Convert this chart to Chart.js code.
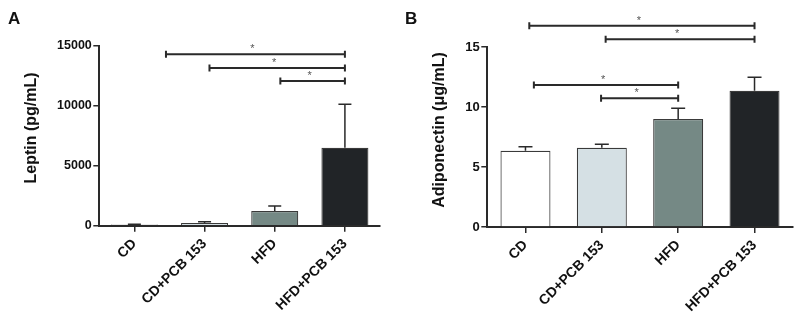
<!DOCTYPE html>
<html>
<head>
<meta charset="utf-8">
<script src="https://cdn.jsdelivr.net/npm/chart.js@4.4.0/dist/chart.umd.min.js"></script>
<style>
  html, body { margin: 0; padding: 0; background: #ffffff; }
  #wrap { position: relative; width: 800px; height: 324px; overflow: hidden; }
  .panel { position: absolute; top: 0; width: 400px; height: 324px; }
  #pa { left: 0; }
  #pb { left: 400px; }
</style>
</head>
<body>
<div id="wrap">
  <div class="panel" id="pa"><canvas id="ca"></canvas></div>
  <div class="panel" id="pb"><canvas id="cb"></canvas></div>
</div>
<script>
// ---- data ----
const categories = ['CD', 'CD+PCB 153', 'HFD', 'HFD+PCB 153'];
const leptinMean = [100, 230, 1230, 6500];
const leptinSEM = [30, 100, 410, 3620];
const adipoMean = [6.36, 6.61, 9.0, 11.36];
const adipoSEM = [0.33, 0.28, 0.89, 1.11];
const leptinTicks = [0, 5000, 10000, 15000];
const adipoTicks = [0, 5, 10, 15];
// significance brackets: [from category position, to category position, height in data units]
const leptinBrackets = [[0.45, 3, 14280], [1.07, 3, 13140], [2.08, 3, 12060]];
const adipoBrackets = [[0.05, 3, 16.78], [1.05, 3, 15.64], [0.11, 2, 11.83], [0.99, 2, 10.72]];
const barColors = ['#ffffff', '#d5e0e4', '#758985', '#212427'];
const panelA = { letter: 'A', title: 'Leptin (pg/mL)' };
const panelB = { letter: 'B', title: 'Adiponectin (\u03bcg/mL)' };

const FONT = "'Liberation Sans', Arial, sans-serif";
const INK = '#2a2a2a';

const annotPlugin = {
  id: 'annot',
  afterDatasetsDraw(chart, args, opts) {
    const ctx = chart.ctx;
    const x = chart.scales.x, y = chart.scales.y;
    ctx.save();
    // error bars (upper only)
    ctx.strokeStyle = INK;
    ctx.lineWidth = 1.5;
    opts.means.forEach((m, i) => {
      const px = x.getPixelForValue(i);
      const y0 = y.getPixelForValue(m);
      const y1 = y.getPixelForValue(m + opts.errs[i]);
      ctx.beginPath();
      ctx.moveTo(px, y0);
      ctx.lineTo(px, y1);
      ctx.moveTo(px - opts.cap, y1);
      ctx.lineTo(px + opts.cap, y1);
      ctx.stroke();
    });
    // significance brackets
    ctx.lineWidth = 2;
    ctx.fillStyle = '#555';
    ctx.font = '11px ' + FONT;
    ctx.textAlign = 'center';
    ctx.textBaseline = 'middle';
    opts.brackets.forEach(b => {
      const xa = x.getPixelForValue(b[0]);
      const xb = x.getPixelForValue(b[1]);
      const py = y.getPixelForValue(b[2]);
      ctx.beginPath();
      ctx.moveTo(xa, py); ctx.lineTo(xb, py);
      ctx.moveTo(xa, py - 3.5); ctx.lineTo(xa, py + 3.5);
      ctx.moveTo(xb, py - 3.5); ctx.lineTo(xb, py + 3.5);
      ctx.stroke();
      ctx.fillText('*', (xa + xb) / 2 - 3, py - 5);
    });
    // y axis title
    ctx.fillStyle = '#111';
    ctx.font = 'bold 16px ' + FONT;
    ctx.save();
    ctx.translate(opts.titleX, opts.titleY);
    ctx.rotate(-Math.PI / 2);
    ctx.fillText(opts.title, 0, 0);
    ctx.restore();
    // panel letter
    ctx.font = 'bold 17px ' + FONT;
    ctx.textAlign = 'left';
    ctx.textBaseline = 'alphabetic';
    ctx.fillText(opts.letter, opts.letterX, 24);
    ctx.restore();
  }
};

function makeChart(id, means, errs, ticks, brackets, panel, geom) {
  return new Chart(document.getElementById(id), {
    type: 'bar',
    data: {
      labels: categories,
      datasets: [{
        data: means,
        backgroundColor: barColors,
        borderColor: '#3a3a3a',
        borderWidth: 1.2,
        borderSkipped: 'bottom',
        barPercentage: geom.barPct,
        categoryPercentage: 1
      }]
    },
    options: {
      responsive: true,
      maintainAspectRatio: false,
      animation: false,
      devicePixelRatio: 1,
      layout: { padding: { left: 0, right: geom.padRight, top: geom.top, bottom: 0 } },
      plugins: {
        legend: { display: false },
        tooltip: { enabled: false },
        annot: {
          means: means, errs: errs, brackets: brackets, cap: geom.cap,
          title: panel.title, titleX: geom.titleX, titleY: geom.titleY,
          letter: panel.letter, letterX: geom.letterX
        }
      },
      scales: {
        x: {
          offset: true,
          grid: { display: true, offset: false, drawOnChartArea: false, drawTicks: true, tickLength: 6, color: INK, lineWidth: 1.5 },
          border: { display: true, color: INK, width: 2 },
          ticks: {
            autoSkip: false, minRotation: 45, maxRotation: 45, padding: 4,
            color: '#111', font: { family: FONT, size: 14, weight: 'bold' }
          },
          afterFit(s) { s.height = geom.xHeight; }
        },
        y: {
          min: ticks[0], max: ticks[ticks.length - 1],
          afterBuildTicks(s) { s.ticks = ticks.map(v => ({ value: v })); },
          grid: { display: true, drawOnChartArea: false, drawTicks: true, tickLength: 6, color: INK, lineWidth: 1.5 },
          border: { display: true, color: INK, width: 2 },
          ticks: {
            padding: 1.5, color: '#111',
            font: { family: FONT, size: geom.yFont, weight: 'bold' },
            callback: (v) => String(v)
          },
          afterFit(s) { s.width = geom.yWidth; }
        }
      }
    },
    plugins: [annotPlugin]
  });
}

makeChart('ca', leptinMean, leptinSEM, leptinTicks, leptinBrackets, panelA, {
  barPct: 0.67, padRight: 20, top: 45.7, xHeight: 98.3, yWidth: 99.3, yFont: 12.5,
  cap: 6.5, titleX: 32, titleY: 128, letterX: 8
});
makeChart('cb', adipoMean, adipoSEM, adipoTicks, adipoBrackets, panelB, {
  barPct: 0.655, padRight: 7.3, top: 47, xHeight: 97, yWidth: 87.3, yFont: 13,
  cap: 7, titleX: 40, titleY: 130, letterX: 5
});
</script>
</body>
</html>
